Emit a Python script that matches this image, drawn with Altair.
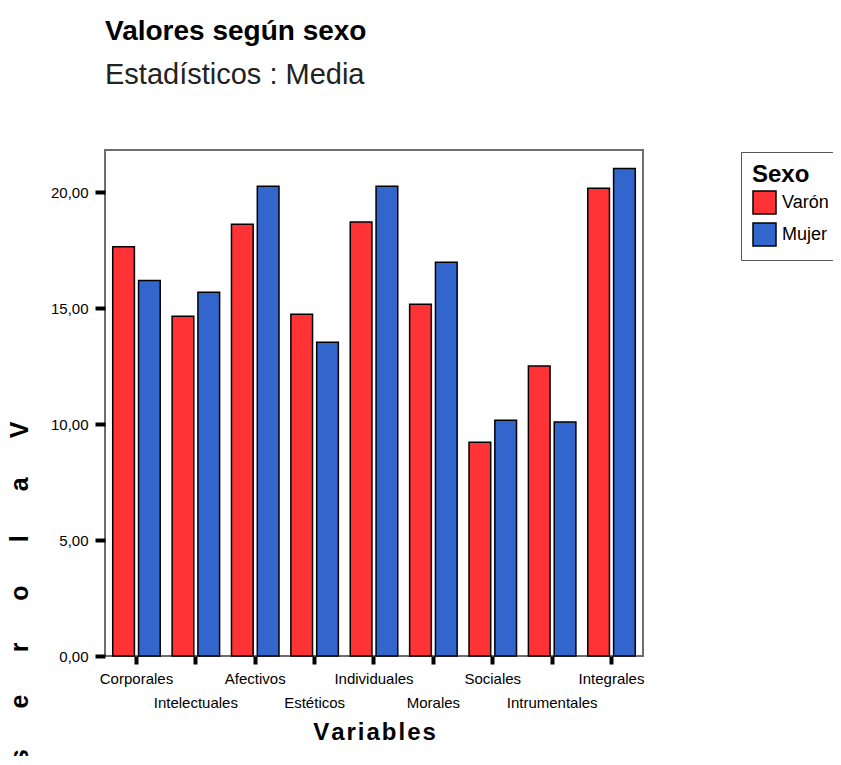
import json
import altair as alt
import pandas as pd

# ---- data ----
categories = ["Corporales", "Intelectuales", "Afectivos", "Estéticos", "Individuales",
              "Morales", "Sociales", "Intrumentales", "Integrales"]
sexes = ["Varón", "Mujer"]
varon = [17.65, 14.65, 18.62, 14.74, 18.71, 15.17, 9.22, 12.51, 20.17]
mujer = [16.19, 15.69, 20.26, 13.53, 20.26, 16.98, 10.17, 10.09, 21.02]
y_title_letters = list("Valores")
colors = ["#ff3236", "#3366cc"]

rows = []
for c, v, m in zip(categories, varon, mujer):
    rows.append({"Variables": c, "Sexo": "Varón", "Media": v})
    rows.append({"Variables": c, "Sexo": "Mujer", "Media": m})
df = pd.DataFrame(rows)
letters_df = pd.DataFrame({"letter": y_title_letters, "idx": list(range(len(y_title_letters)))})

FONT = "Liberation Sans"
HAIR = "\u200a"

stagger = ("indexof(" + json.dumps(categories, ensure_ascii=False) +
           ", datum.value) % 2 == 1 ? ['', datum.value] : datum.value")

bars = alt.Chart(df).mark_bar(stroke="black", strokeWidth=1.5).encode(
    x=alt.X("Variables:N", sort=categories,
            scale=alt.Scale(paddingInner=0.2, paddingOuter=0.13),
            axis=alt.Axis(title=HAIR.join("Variables"), labelAngle=0, domain=False,
                          tickColor="black", tickWidth=4, tickSize=8,
                          labelFont=FONT, labelFontSize=15, labelColor="black",
                          labelPadding=7, labelLineHeight=24, labelExpr=stagger,
                          titleFont=FONT, titleFontSize=24, titleFontWeight="bold",
                          titleColor="black", titlePadding=10)),
    xOffset=alt.XOffset("Sexo:N", sort=sexes, scale=alt.Scale(paddingInner=0.16, paddingOuter=0)),
    y=alt.Y("Media:Q", scale=alt.Scale(domain=[0, 21.82], nice=False, zero=True),
            axis=alt.Axis(title=None, values=[0, 5, 10, 15, 20], domain=False, grid=False,
                          tickColor="black", tickWidth=4, tickSize=10,
                          labelFont=FONT, labelFontSize=15, labelColor="black", labelPadding=7,
                          labelExpr="replace(format(datum.value, '.2f'), '.', ',')")),
    color=alt.Color("Sexo:N", sort=sexes,
                    scale=alt.Scale(domain=sexes, range=colors),
                    legend=alt.Legend(title="Sexo", orient="none", legendX=636, legendY=2,
                                      symbolType="square", symbolSize=529,
                                      symbolStrokeColor="black", symbolStrokeWidth=1.5,
                                      symbolOpacity=1,
                                      labelFont=FONT, labelFontSize=18, labelColor="black",
                                      labelOffset=5, rowPadding=3,
                                      titleFont=FONT, titleFontSize=24, titleFontWeight="bold",
                                      titleColor="black", titlePadding=3,
                                      padding=11, strokeColor="#555555", fillColor="white")),
)

ytitle = alt.Chart(letters_df).mark_text(
    angle=270, font=FONT, fontSize=25, fontWeight="bold", color="black",
    align="center", baseline="middle"
).encode(
    x=alt.value(-85),
    y=alt.Y("idx:Q", scale=alt.Scale(domain=[0, 6], range=[280, 606]), axis=None),
    text="letter:N",
)

chart = alt.layer(bars, ytitle).resolve_scale(y="independent").properties(
    width=538, height=506,
    autosize=alt.AutoSizeParams(type="none"),
    padding={"left": 97, "top": 142, "right": 190, "bottom": 100},
    title=alt.TitleParams(text="Valores según sexo", subtitle="Estadísticos : Media",
                          anchor="start", frame="group", font=FONT, fontSize=28,
                          fontWeight="bold", color="black",
                          subtitleFont=FONT, subtitleFontSize=29, subtitleColor="#222222",
                          subtitlePadding=15, offset=60),
).configure_view(stroke="#6e6e6e", strokeWidth=2)

chart.save("out.html", embed_options={"renderer": "svg", "actions": False})
